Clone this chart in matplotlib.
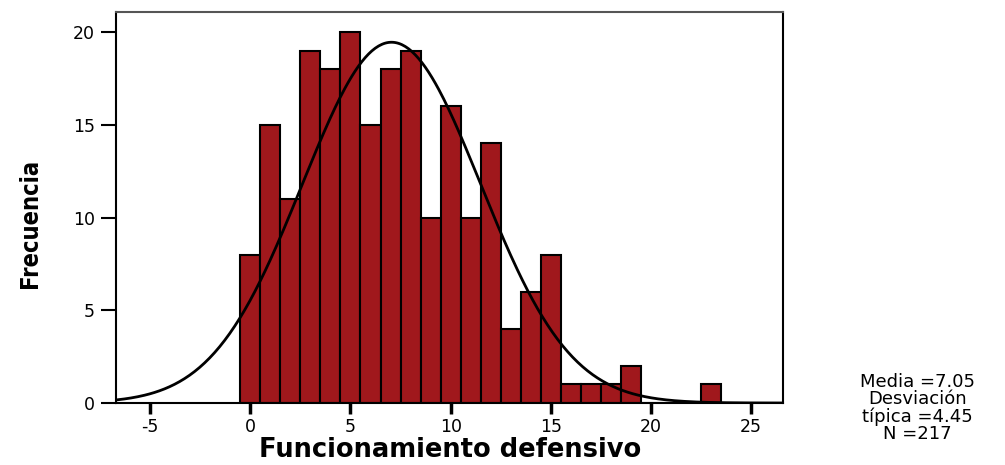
import matplotlib.pyplot as plt
import numpy as np

plt.rcParams['axes.unicode_minus'] = False

# Datos
centros = np.arange(0, 24)
frecuencias = [8, 15, 11, 19, 18, 20, 15, 18, 19, 10, 16, 10, 14, 4, 6, 8,
               1, 1, 1, 2, 0, 0, 0, 1]
media = 7.05
desviacion = 4.45
n_total = 217
ticks_x = [-5, 0, 5, 10, 15, 20, 25]
ticks_y = [0, 5, 10, 15, 20]

fig = plt.figure(figsize=(10.05, 4.65), dpi=100)
ax = fig.add_axes([0.1154, 0.1333, 0.664, 0.8407])

ax.bar(centros, frecuencias, width=1.0, color='#a0181c', edgecolor='black',
       linewidth=1.5, zorder=2)

# Curva normal
xs = np.linspace(-6.7, 26.6, 400)
ys = n_total * 1.0 / (desviacion * np.sqrt(2 * np.pi)) * np.exp(-0.5 * ((xs - media) / desviacion) ** 2)
ax.plot(xs, ys, color='black', linewidth=2, zorder=3)

ax.set_xlim(-6.7, 26.6)
ax.set_ylim(0, 21.08)
ax.set_xticks(ticks_x)
ax.set_yticks(ticks_y)
ax.tick_params(axis='y', direction='out', length=11, width=1.5, labelsize=12.5, pad=4)
ax.tick_params(axis='x', direction='out', length=8, width=2.5, labelsize=12.5, pad=3)
for s in ax.spines.values():
    s.set_linewidth(1.5)
ax.spines['top'].set_color('#555555')

# Etiquetas
fig.text(0.4475, 0.017, 'Funcionamiento defensivo', fontsize=18.5, fontweight='bold',
         ha='center', va='baseline')
fig.text(0.03, 0.52, 'Frecuencia', rotation=90, fontsize=17, fontweight='bold',
         family='DejaVu Sans', fontstretch='condensed', ha='center', va='center')

fig.text(0.913, 0.123, 'Media =%.2f\nDesviación\ntípica =%.2f\nN =%d' % (media, desviacion, n_total),
         fontsize=13, ha='center', va='center', linespacing=0.95)

fig.savefig('out.png', dpi=100)
